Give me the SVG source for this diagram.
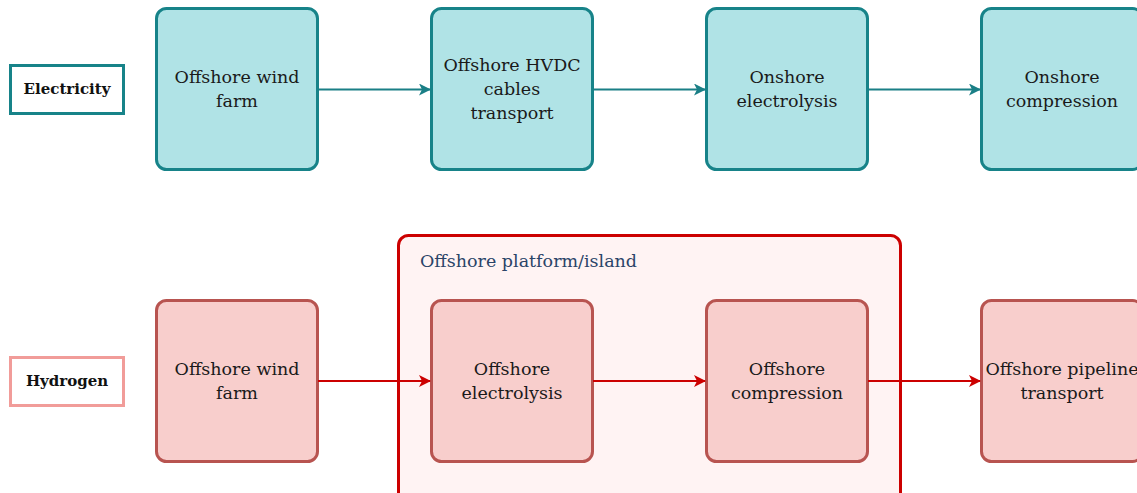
<svg xmlns="http://www.w3.org/2000/svg" width="1137" height="493" viewBox="0 0 1137 493">
<defs>
<style>
.t{font-family:'DejaVu Serif',serif;font-size:17.5px;fill:#1a1a1a;text-anchor:middle}
.lbl{font-family:'DejaVu Serif',serif;font-size:15px;font-weight:bold;fill:#111;text-anchor:middle}
.e{fill:#b0e3e6;stroke:#178389;stroke-width:3}
.h{fill:#f8cecc;stroke:#b85450;stroke-width:3}
.ce{stroke:#1a7f86;stroke-width:2;fill:none}
.ch{stroke:#cc0000;stroke-width:2;fill:none}
</style>
<marker id="ae" viewBox="0 0 12 12" refX="11" refY="6" markerWidth="12" markerHeight="12" markerUnits="userSpaceOnUse" orient="auto"><path d="M0,0 L12,6 L0,12 L3,6 Z" fill="#1a7f86"/></marker>
<marker id="ah" viewBox="0 0 12 12" refX="11" refY="6" markerWidth="12" markerHeight="12" markerUnits="userSpaceOnUse" orient="auto"><path d="M0,0 L12,6 L0,12 L3,6 Z" fill="#cc0000"/></marker>
</defs>
<g id="container">
<rect x="398.5" y="235.5" width="502" height="270" rx="10" fill="#fff3f3" stroke="#cc0000" stroke-width="3"/>
<text x="420" y="267" font-family="'DejaVu Serif', serif" font-size="17.5" fill="#2b4468">Offshore platform/island</text>
</g>
<g id="label-electricity">
<rect x="10.5" y="65.5" width="113" height="48" fill="#fff" stroke="#178389" stroke-width="3"/>
<text class="lbl" x="67" y="94">Electricity</text>
</g>
<g id="label-hydrogen">
<rect x="10.5" y="357.5" width="113" height="48" fill="#fff" stroke="#f19c99" stroke-width="3"/>
<text class="lbl" x="67" y="386">Hydrogen</text>
</g>
<g id="e1"><rect class="e" x="156.5" y="8.5" width="161" height="161" rx="10"/><text class="t" x="237" y="83">Offshore wind</text><text class="t" x="237" y="107">farm</text></g>
<g id="e2"><rect class="e" x="431.5" y="8.5" width="161" height="161" rx="10"/><text class="t" x="512" y="71">Offshore HVDC</text><text class="t" x="512" y="95">cables</text><text class="t" x="512" y="119">transport</text></g>
<g id="e3"><rect class="e" x="706.5" y="8.5" width="161" height="161" rx="10"/><text class="t" x="787" y="83">Onshore</text><text class="t" x="787" y="107">electrolysis</text></g>
<g id="e4"><rect class="e" x="981.5" y="8.5" width="161" height="161" rx="10"/><text class="t" x="1062" y="83">Onshore</text><text class="t" x="1062" y="107">compression</text></g>
<g id="h1"><rect class="h" x="156.5" y="300.5" width="161" height="161" rx="10"/><text class="t" x="237" y="375">Offshore wind</text><text class="t" x="237" y="399">farm</text></g>
<g id="h2"><rect class="h" x="431.5" y="300.5" width="161" height="161" rx="10"/><text class="t" x="512" y="375">Offshore</text><text class="t" x="512" y="399">electrolysis</text></g>
<g id="h3"><rect class="h" x="706.5" y="300.5" width="161" height="161" rx="10"/><text class="t" x="787" y="375">Offshore</text><text class="t" x="787" y="399">compression</text></g>
<g id="h4"><rect class="h" x="981.5" y="300.5" width="161" height="161" rx="10"/><text class="t" x="1062" y="375">Offshore pipeline</text><text class="t" x="1062" y="399">transport</text></g>
<g id="connectors">
<line class="ce" x1="318" y1="89.5" x2="430" y2="89.5" marker-end="url(#ae)"/>
<line class="ce" x1="593" y1="89.5" x2="705" y2="89.5" marker-end="url(#ae)"/>
<line class="ce" x1="868" y1="89.5" x2="980" y2="89.5" marker-end="url(#ae)"/>
<line class="ch" x1="318" y1="381" x2="430" y2="381" marker-end="url(#ah)"/>
<line class="ch" x1="593" y1="381" x2="705" y2="381" marker-end="url(#ah)"/>
<line class="ch" x1="868" y1="381" x2="980" y2="381" marker-end="url(#ah)"/>
</g>
</svg>
